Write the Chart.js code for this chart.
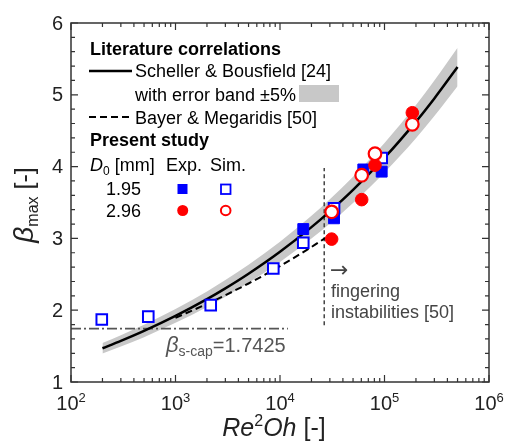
<!DOCTYPE html>
<html>
<head>
<meta charset="utf-8">
<script src="https://cdn.jsdelivr.net/npm/chart.js@4.4.0/dist/chart.umd.min.js"></script>
<style>
  body { margin: 0; background: #fff; }
  canvas { display: block; }
</style>
</head>
<body>
<canvas id="grafico" width="506" height="441"></canvas>
<script>
// Scheller & Bousfield e faixa de ±5%
const curvaX = [200, 300, 500, 1000, 2000, 3000, 5000, 1e4, 2e4, 3e4, 5e4, 1e5, 2e5, 3e5, 5e5];
const schellerY = [1.470, 1.572, 1.711, 1.920, 2.154, 2.304, 2.508, 2.814, 3.157, 3.377, 3.676, 4.124, 4.627, 4.950, 5.387];
const faixaSup = [1.544, 1.651, 1.797, 2.016, 2.262, 2.419, 2.633, 2.955, 3.315, 3.546, 3.860, 4.330, 4.858, 5.198, 5.656];
const faixaInf = [1.397, 1.493, 1.625, 1.824, 2.046, 2.189, 2.383, 2.673, 2.999, 3.208, 3.492, 3.918, 4.396, 4.703, 5.118];

// Bayer & Megaridis
const bayerX = [1000, 2000, 3000, 5000, 1e4, 2e4, 2.7e4];
const bayerY = [1.894, 2.087, 2.209, 2.372, 2.614, 2.880, 3.004];

// Presente estudo
const sim195X = [197, 549, 2173, 8630, 16700, 32900, 94000];
const sim195Y = [1.87, 1.91, 2.07, 2.58, 2.94, 3.42, 4.12];
const exp195X = [16700, 32900, 62700, 94000];
const exp195Y = [3.13, 3.28, 3.96, 3.93];
const exp296X = [31200, 60500, 81100, 184600];
const exp296Y = [2.99, 3.54, 4.02, 4.75];
const sim296X = [31200, 60500, 81100, 184600];
const sim296Y = [3.37, 3.88, 4.18, 4.59];

// Linhas de referência
const capX = [100, 11900];
const capY = [1.7425, 1.7425];
const dedosX = [26500, 26500];
const dedosY = [1.79, 3.98];

// Eixos
const ticksX = [100, 1000, 1e4, 1e5, 1e6];
const expoentesX = ["2", "3", "4", "5", "6"];
const ticksY = [1, 2, 3, 4, 5, 6];

const FONTE = '"Liberation Sans", Arial, sans-serif';
const AZUL = "#0000ff";
const VERMELHO = "#ff0000";
const CINZA_FAIXA = "#c8c8c8";

function pares(xs, ys) {
  return xs.map((x, i) => ({ x, y: ys[i] }));
}

// Escreve texto em partes (itálico, sub/sobrescrito)
function escreverPartes(ctx, partes, x, y, alinhar) {
  let total = 0;
  partes.forEach(p => { ctx.font = p.font; total += ctx.measureText(p.t).width; });
  let cx = alinhar === "center" ? x - total / 2 : alinhar === "right" ? x - total : x;
  ctx.textAlign = "left";
  ctx.textBaseline = "alphabetic";
  partes.forEach(p => {
    ctx.font = p.font;
    ctx.fillText(p.t, cx, y + (p.dy || 0));
    cx += ctx.measureText(p.t).width;
  });
}

function texto(ctx, t, x, y, font, cor) {
  ctx.font = font;
  ctx.fillStyle = cor || "#000";
  ctx.textAlign = "left";
  ctx.textBaseline = "alphabetic";
  ctx.fillText(t, x, y);
}

// Moldura, ticks internos, rótulos, legenda e anotações
const desenhoExtra = {
  id: "desenhoExtra",
  afterDraw(chart) {
    const ctx = chart.ctx;
    const { left, right, top, bottom } = chart.chartArea;
    const sx = chart.scales.x;
    const sy = chart.scales.y;
    ctx.save();

    // moldura
    ctx.strokeStyle = "#333";
    ctx.lineWidth = 1.5;
    ctx.setLineDash([]);
    ctx.strokeRect(left, top, right - left, bottom - top);

    // ticks x (log)
    ctx.lineWidth = 1.2;
    ctx.beginPath();
    for (let k = 2; k <= 6; k++) {
      const base = Math.pow(10, k);
      const px = sx.getPixelForValue(base);
      ctx.moveTo(px, bottom); ctx.lineTo(px, bottom - 7);
      ctx.moveTo(px, top); ctx.lineTo(px, top + 7);
      if (k < 6) {
        for (let m = 2; m <= 9; m++) {
          const pm = sx.getPixelForValue(m * base);
          ctx.moveTo(pm, bottom); ctx.lineTo(pm, bottom - 4);
          ctx.moveTo(pm, top); ctx.lineTo(pm, top + 4);
        }
      }
    }
    // ticks y
    for (let v = 1; v <= 6.001; v += 0.2) {
      const py = sy.getPixelForValue(v);
      const maior = Math.abs(v - Math.round(v)) < 0.01;
      const len = maior ? 7 : 4;
      ctx.moveTo(left, py); ctx.lineTo(left + len, py);
      ctx.moveTo(right, py); ctx.lineTo(right - len, py);
    }
    ctx.stroke();

    // rótulos dos eixos
    ctx.fillStyle = "#222";
    ticksY.forEach(v => {
      ctx.font = "20px " + FONTE;
      ctx.textAlign = "right";
      ctx.textBaseline = "middle";
      ctx.fillText(String(v), left - 8, sy.getPixelForValue(v) + 1);
    });
    ticksX.forEach((v, i) => {
      escreverPartes(ctx, [
        { t: "10", font: "20px " + FONTE },
        { t: expoentesX[i], font: "13px " + FONTE, dy: -8 }
      ], sx.getPixelForValue(v), 410, "center");
    });

    // títulos
    ctx.fillStyle = "#222";
    escreverPartes(ctx, [
      { t: "Re", font: "italic 25px " + FONTE },
      { t: "2", font: "16px " + FONTE, dy: -10 },
      { t: "Oh", font: "italic 25px " + FONTE },
      { t: " [-]", font: "25px " + FONTE }
    ], 274, 436, "center");

    ctx.save();
    ctx.translate(33, 205);
    ctx.rotate(-Math.PI / 2);
    escreverPartes(ctx, [
      { t: "β", font: "italic 28px " + FONTE },
      { t: "max", font: "16px " + FONTE, dy: 5 },
      { t: " [-]", font: "25px " + FONTE }
    ], 0, 0, "center");
    ctx.restore();

    // legenda
    const f18 = "18px " + FONTE;
    texto(ctx, "Literature correlations", 90, 55, "bold 18px " + FONTE);
    ctx.strokeStyle = "#000";
    ctx.lineWidth = 2.5;
    ctx.beginPath(); ctx.moveTo(89, 71); ctx.lineTo(132, 71); ctx.stroke();
    texto(ctx, "Scheller & Bousfield [24]", 135, 77, f18);
    texto(ctx, "with error band ±5%", 135, 101, f18);
    ctx.fillStyle = CINZA_FAIXA;
    ctx.fillRect(299, 85, 40, 17);
    ctx.lineWidth = 2;
    ctx.setLineDash([7, 4]);
    ctx.beginPath(); ctx.moveTo(89, 117); ctx.lineTo(132, 117); ctx.stroke();
    ctx.setLineDash([]);
    texto(ctx, "Bayer & Megaridis [50]", 135, 124, f18);
    texto(ctx, "Present study", 90, 146, "bold 18px " + FONTE);
    ctx.fillStyle = "#000";
    escreverPartes(ctx, [
      { t: "D", font: "italic 18px " + FONTE },
      { t: "0", font: "12px " + FONTE, dy: 4 },
      { t: " [mm]", font: f18 }
    ], 90, 171, "left");
    texto(ctx, "Exp.", 166, 171, f18);
    texto(ctx, "Sim.", 210, 171, f18);
    texto(ctx, "1.95", 106, 195, f18);
    texto(ctx, "2.96", 106, 217, f18);

    // marcadores da legenda
    ctx.fillStyle = AZUL;
    ctx.fillRect(177.5, 184, 10, 10);
    ctx.strokeStyle = AZUL;
    ctx.lineWidth = 1.8;
    ctx.fillStyle = "#fff";
    ctx.fillRect(221, 184.5, 9.5, 9.5);
    ctx.strokeRect(221, 184.5, 9.5, 9.5);
    ctx.fillStyle = VERMELHO;
    ctx.beginPath(); ctx.arc(182.7, 210.5, 5.5, 0, Math.PI * 2); ctx.fill();
    ctx.strokeStyle = VERMELHO;
    ctx.lineWidth = 2;
    ctx.fillStyle = "#fff";
    ctx.beginPath(); ctx.arc(225.7, 210.5, 4.8, 0, Math.PI * 2); ctx.fill(); ctx.stroke();

    // anotações
    ctx.fillStyle = "#555";
    escreverPartes(ctx, [
      { t: "β", font: "italic 22px " + FONTE },
      { t: "s-cap", font: "14px " + FONTE, dy: 4 },
      { t: "=1.7425", font: "20px " + FONTE }
    ], 166, 352, "left");
    texto(ctx, "→", 330, 277, '22px "DejaVu Sans", ' + FONTE, "#444");
    texto(ctx, "fingering", 331, 297, f18, "#444");
    texto(ctx, "instabilities [50]", 331, 318, f18, "#444");

    ctx.restore();
  }
};

function linha(dados, cor, largura, traco, ordem) {
  return {
    data: dados,
    showLine: true,
    borderColor: cor,
    borderWidth: largura,
    borderDash: traco,
    pointRadius: 0,
    fill: false,
    order: ordem
  };
}

function renderizarGrafico() {
  const ctx = document.getElementById("grafico").getContext("2d");
  new Chart(ctx, {
    type: "scatter",
    data: {
      datasets: [
        // pontos (ordem menor = por cima)
        { data: pares(sim296X, sim296Y), pointStyle: "circle", pointRadius: 6.3, borderWidth: 2.2,
          borderColor: VERMELHO, backgroundColor: "#fff", order: 0 },
        { data: pares(exp296X, exp296Y), pointStyle: "circle", pointRadius: 6.3, borderWidth: 1,
          borderColor: VERMELHO, backgroundColor: VERMELHO, order: 1 },
        { data: pares(exp195X, exp195Y), pointStyle: "rect", pointRadius: 7.7, borderWidth: 1,
          borderColor: AZUL, backgroundColor: AZUL, order: 2 },
        { data: pares(sim195X, sim195Y), pointStyle: "rect", pointRadius: 7.5, borderWidth: 2,
          borderColor: AZUL, backgroundColor: "#fff", order: 3 },
        // correlações
        { ...linha(pares(curvaX, schellerY), "#000", 2.5, [], 4), cubicInterpolationMode: "monotone" },
        { ...linha(pares(bayerX, bayerY), "#000", 2, [7, 4], 5), cubicInterpolationMode: "monotone" },
        linha(pares(capX, capY), "#555", 1.8, [10, 3, 2, 3], 6),
        linha(pares(dedosX, dedosY), "#444", 1.5, [4, 3], 7),
        // faixa de erro
        { data: pares(curvaX, faixaSup), showLine: true, borderWidth: 0, pointRadius: 0,
          backgroundColor: CINZA_FAIXA, fill: "+1", cubicInterpolationMode: "monotone", order: 8 },
        { data: pares(curvaX, faixaInf), showLine: true, borderWidth: 0, pointRadius: 0,
          fill: false, cubicInterpolationMode: "monotone", order: 9 }
      ]
    },
    options: {
      responsive: false,
      animation: false,
      devicePixelRatio: 1,
      layout: { padding: { left: 71, right: 17, top: 23, bottom: 59 } },
      scales: {
        x: { type: "logarithmic", min: 100, max: 1e6, display: false },
        y: { type: "linear", min: 1, max: 6, display: false }
      },
      plugins: {
        legend: { display: false },
        tooltip: { enabled: false }
      }
    },
    plugins: [desenhoExtra]
  });
}

// Inicialização
document.addEventListener("DOMContentLoaded", renderizarGrafico);
</script>
</body>
</html>
